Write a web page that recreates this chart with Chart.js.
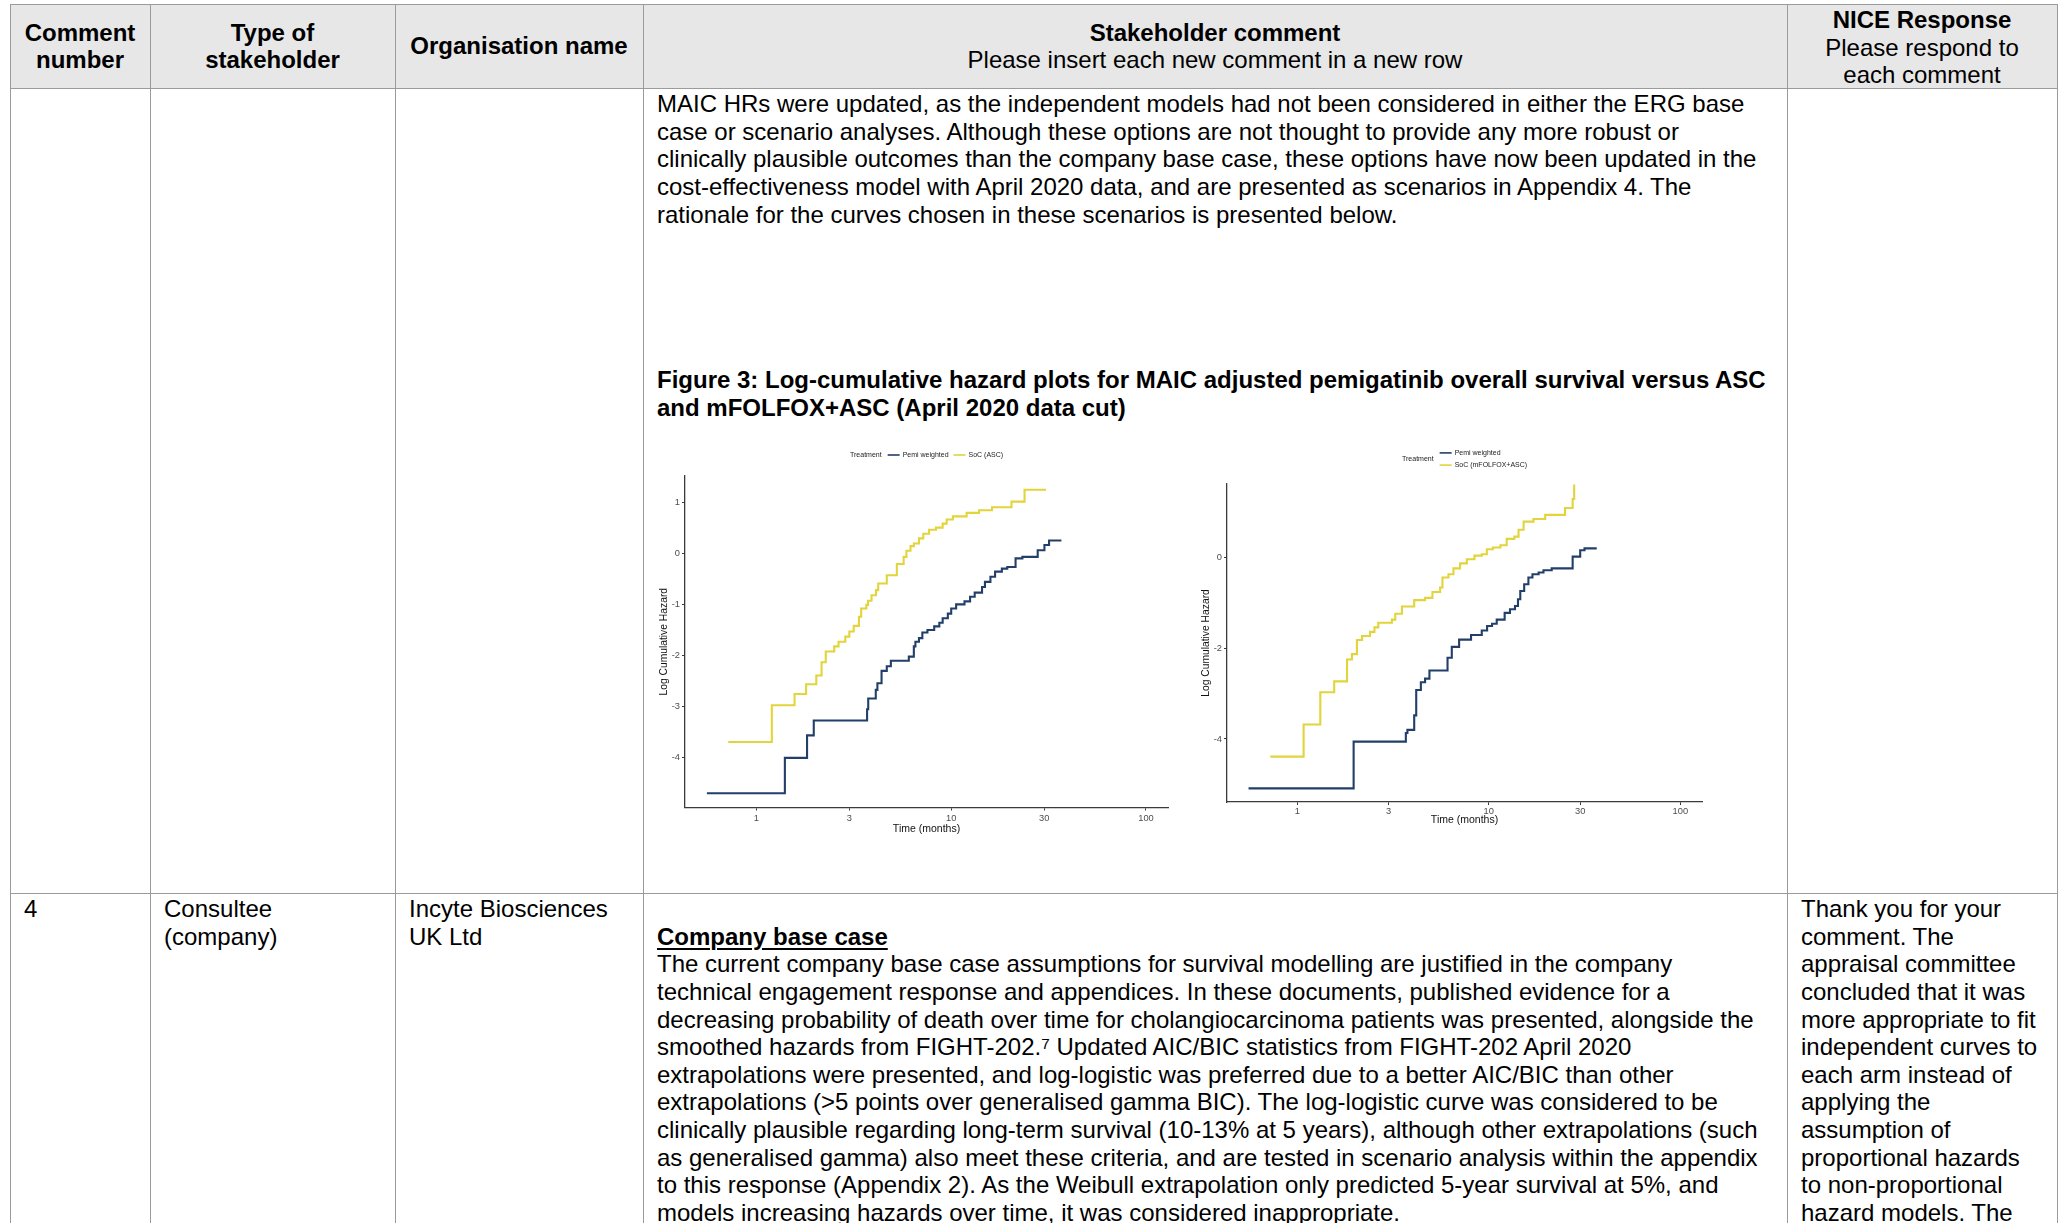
<!DOCTYPE html>
<html>
<head>
<meta charset="utf-8">
<title>Stakeholder comments – log-cumulative hazard plots</title>
<script src="https://cdn.jsdelivr.net/npm/chart.js@4.4.1/dist/chart.umd.min.js"></script>
<style>
  html, body { margin: 0; padding: 0; background: #fff; }
  body { width: 2060px; height: 1223px; overflow: hidden; position: relative; }
  .rule { position: absolute; background: #9b9b9b; }
  .hdr-bg { position: absolute; background: #e7e7e7; }
  .t { position: absolute; font-family: "Liberation Sans", Arial, sans-serif; font-size: 24px; line-height: 27.6px; white-space: pre; color: #000; }
  .c { text-align: center; }
  .b { font-weight: bold; }
  .u { text-decoration: underline; text-decoration-thickness: 2px; text-underline-offset: 3px; }
  canvas { position: absolute; filter: blur(0.5px); }
</style>
</head>
<body>

<!-- header band -->
<div class="hdr-bg" style="left:10px; top:4.7px; width:2047px; height:83.5px;"></div>

<!-- table rules -->
<div class="rule" style="left:10px; top:4px; width:2048px; height:1.4px;"></div>
<div class="rule" style="left:10px; top:87.6px; width:2048px; height:1.4px;"></div>
<div class="rule" style="left:10px; top:892.6px; width:2048px; height:1.4px;"></div>
<div class="rule" style="left:9.6px; top:4px; width:1.4px; height:1219px;"></div>
<div class="rule" style="left:149.6px; top:4px; width:1.4px; height:1219px;"></div>
<div class="rule" style="left:394.6px; top:4px; width:1.4px; height:1219px;"></div>
<div class="rule" style="left:642.6px; top:4px; width:1.4px; height:1219px;"></div>
<div class="rule" style="left:1786.6px; top:4px; width:1.4px; height:1219px;"></div>
<div class="rule" style="left:2056.6px; top:4px; width:1.4px; height:1219px;"></div>

<!-- header cells -->
<div class="t c b" style="left:10px; width:140px; top:18.6px;">Comment
number</div>
<div class="t c b" style="left:150px; width:245px; top:18.6px;">Type of
stakeholder</div>
<div class="t c b" style="left:395px; width:248px; top:32.4px;">Organisation name</div>
<div class="t c" style="left:643px; width:1144px; top:18.6px;"><span class="b">Stakeholder comment</span>
Please insert each new comment in a new row</div>
<div class="t c" style="left:1787px; width:270px; top:6.2px;"><span class="b">NICE Response</span>
Please respond to
each comment</div>

<!-- continued comment, figure caption -->
<div class="t" style="left:657px; top:90.2px;">MAIC HRs were updated, as the independent models had not been considered in either the ERG base
case or scenario analyses. Although these options are not thought to provide any more robust or
clinically plausible outcomes than the company base case, these options have now been updated in the
cost-effectiveness model with April 2020 data, and are presented as scenarios in Appendix 4. The
rationale for the curves chosen in these scenarios is presented below.





<span class="b">Figure 3: Log-cumulative hazard plots for MAIC adjusted pemigatinib overall survival versus ASC
and mFOLFOX+ASC (April 2020 data cut)</span></div>

<canvas id="chartAsc" width="530" height="412" style="left:650px; top:440px;"></canvas>
<canvas id="chartMf" width="520" height="412" style="left:1195px; top:440px;"></canvas>

<!-- comment 4 -->
<div class="t" style="left:24px; top:895.2px;">4</div>
<div class="t" style="left:164px; top:895.2px;">Consultee
(company)</div>
<div class="t" style="left:409px; top:895.2px;">Incyte Biosciences
UK Ltd</div>
<div class="t" style="left:657px; top:895.2px;">
<span class="b u">Company base case</span>
The current company base case assumptions for survival modelling are justified in the company
technical engagement response and appendices. In these documents, published evidence for a
decreasing probability of death over time for cholangiocarcinoma patients was presented, alongside the
smoothed hazards from FIGHT-202.⁷ Updated AIC/BIC statistics from FIGHT-202 April 2020
extrapolations were presented, and log-logistic was preferred due to a better AIC/BIC than other
extrapolations (&gt;5 points over generalised gamma BIC). The log-logistic curve was considered to be
clinically plausible regarding long-term survival (10-13% at 5 years), although other extrapolations (such
as generalised gamma) also meet these criteria, and are tested in scenario analysis within the appendix
to this response (Appendix 2). As the Weibull extrapolation only predicted 5-year survival at 5%, and
models increasing hazards over time, it was considered inappropriate.</div>
<div class="t" style="left:1801px; top:895.2px;">Thank you for your
comment. The
appraisal committee
concluded that it was
more appropriate to fit
independent curves to
each arm instead of
applying the
assumption of
proportional hazards
to non-proportional
hazard models. The</div>

<script>
// Kaplan-Meier derived log cumulative hazard, time in months (log axis)

// Panel A: Pemi weighted vs SoC (ASC)
const pemiAscTime = [0.557, 1.40, 1.82, 1.97, 3.70, 3.75, 4.10, 4.18, 4.39, 4.67, 4.90, 6.06, 6.43, 6.55, 6.83, 7.11, 7.55, 8.18, 8.69, 9.04, 9.61, 10.0, 10.6, 11.7, 12.5, 13.2, 14.4, 14.9, 15.9, 16.8, 18.2, 19.4, 21.4, 23.2, 27.8, 30.1, 31.8, 36.8];
const pemiAscLogH = [-4.69, -4.00, -3.56, -3.27, -3.05, -2.84, -2.67, -2.54, -2.30, -2.21, -2.10, -2.02, -1.82, -1.73, -1.66, -1.55, -1.50, -1.43, -1.36, -1.27, -1.18, -1.08, -1.00, -0.94, -0.85, -0.77, -0.66, -0.56, -0.46, -0.36, -0.30, -0.27, -0.10, -0.07, 0.06, 0.16, 0.25, 0.25];
const socAscTime = [0.717, 1.20, 1.57, 1.80, 2.03, 2.16, 2.27, 2.51, 2.64, 2.86, 3.00, 3.16, 3.36, 3.45, 3.67, 3.74, 3.90, 4.11, 4.22, 4.67, 5.26, 5.70, 5.89, 6.18, 6.43, 6.83, 7.19, 7.70, 8.35, 9.04, 9.48, 10.2, 12.0, 13.9, 16.2, 20.4, 23.8, 30.7];
const socAscLogH = [-3.69, -2.97, -2.75, -2.56, -2.39, -2.13, -1.92, -1.82, -1.73, -1.63, -1.53, -1.42, -1.24, -1.08, -1.01, -0.93, -0.82, -0.72, -0.59, -0.43, -0.21, -0.07, 0.05, 0.14, 0.19, 0.29, 0.38, 0.46, 0.50, 0.58, 0.66, 0.72, 0.79, 0.84, 0.90, 1.01, 1.24, 1.24];

// Panel B: Pemi weighted vs SoC (mFOLFOX+ASC)
const pemiMfTime = [0.557, 1.97, 3.69, 3.76, 4.08, 4.18, 4.42, 4.65, 4.90, 6.09, 6.41, 7.00, 8.08, 9.19, 9.80, 10.4, 11.0, 12.1, 12.9, 13.7, 14.2, 14.6, 15.3, 16.1, 16.9, 18.2, 19.3, 21.3, 27.4, 30.0, 31.6, 36.6];
const pemiMfLogH = [-5.09, -4.06, -3.87, -3.80, -3.48, -2.92, -2.75, -2.67, -2.49, -2.21, -1.97, -1.81, -1.71, -1.61, -1.51, -1.46, -1.37, -1.22, -1.14, -1.07, -0.92, -0.74, -0.59, -0.44, -0.37, -0.33, -0.28, -0.24, 0.02, 0.16, 0.20, 0.20];
const socMfTime = [0.723, 1.08, 1.32, 1.56, 1.82, 1.93, 2.05, 2.18, 2.40, 2.53, 2.65, 3.12, 3.25, 3.52, 4.08, 4.65, 5.08, 5.57, 5.73, 6.16, 6.54, 7.08, 7.68, 8.42, 9.19, 9.77, 10.5, 11.5, 12.4, 13.6, 14.3, 15.2, 17.1, 19.7, 25.0, 27.4, 27.9];
const socMfLogH = [-4.39, -3.68, -2.97, -2.73, -2.25, -2.13, -1.82, -1.73, -1.64, -1.54, -1.44, -1.37, -1.24, -1.08, -0.94, -0.89, -0.76, -0.66, -0.44, -0.37, -0.24, -0.13, -0.04, 0.04, 0.07, 0.18, 0.22, 0.27, 0.41, 0.46, 0.61, 0.79, 0.85, 0.94, 1.09, 1.29, 1.61];

// Axis breaks
const timeTicks = [1, 3, 10, 30, 100];
const ascLogHTicks = [-4, -3, -2, -1, 0, 1];
const mfLogHTicks = [-4, -2, 0];

const legendTitle = 'Treatment';
const pemiLabel = 'Pemi weighted';
const socAscLabel = 'SoC (ASC)';
const socMfLabel = 'SoC (mFOLFOX+ASC)';

const PEMI_COLOR = '#223f69';
const SOC_COLOR = '#e2d43b';
const AXIS_COLOR = '#3a3a3a';
const TICK_TEXT = '#4d4d4d';
const FONT = '"Liberation Sans", Arial, sans-serif';

function toPoints(xs, ys) {
  return xs.map((x, i) => ({ x: x, y: ys[i] }));
}

// ggplot-style legend: "Treatment" followed by line keys, either in a row or stacked
const treatmentLegend = {
  id: 'treatmentLegend',
  afterDraw(chart, args, opts) {
    const ctx = chart.ctx;
    ctx.save();
    ctx.font = '7px ' + FONT;
    ctx.textBaseline = 'middle';
    ctx.fillStyle = '#222';
    const items = chart.data.datasets.map(d => ({ label: d.label, color: d.borderColor }));
    const keyLen = 12, keyGap = 3;
    if (opts.layout === 'row') {
      let x = opts.x;
      const y = opts.y;
      ctx.fillText(legendTitle, x, y);
      x += ctx.measureText(legendTitle).width + 6;
      items.forEach(it => {
        ctx.strokeStyle = it.color;
        ctx.lineWidth = 1.6;
        ctx.beginPath();
        ctx.moveTo(x, y); ctx.lineTo(x + keyLen, y);
        ctx.stroke();
        x += keyLen + keyGap;
        ctx.fillStyle = '#222';
        ctx.fillText(it.label, x, y);
        x += ctx.measureText(it.label).width + 5;
      });
    } else {
      const rowH = 12.2;
      const yMid = opts.y;
      let x = opts.x;
      ctx.fillText(legendTitle, x, yMid);
      x += ctx.measureText(legendTitle).width + 6;
      items.forEach((it, i) => {
        const y = yMid + (i - (items.length - 1) / 2) * rowH;
        ctx.strokeStyle = it.color;
        ctx.lineWidth = 1.6;
        ctx.beginPath();
        ctx.moveTo(x, y); ctx.lineTo(x + keyLen, y);
        ctx.stroke();
        ctx.fillStyle = '#222';
        ctx.fillText(it.label, x + keyLen + keyGap, y);
      });
    }
    ctx.restore();
  }
};

function makeChart(canvasId, cfg) {
  return new Chart(document.getElementById(canvasId), {
    type: 'line',
    data: {
      datasets: [
        { label: pemiLabel, data: toPoints(cfg.pemiT, cfg.pemiH), borderColor: PEMI_COLOR,
          borderWidth: 2.1, stepped: 'before', pointRadius: 0, fill: false },
        { label: cfg.socLabel, data: toPoints(cfg.socT, cfg.socH), borderColor: SOC_COLOR,
          borderWidth: 2.1, stepped: 'before', pointRadius: 0, fill: false }
      ]
    },
    options: {
      responsive: false,
      animation: false,
      events: [],
      layout: { padding: cfg.padding },
      plugins: {
        legend: { display: false },
        tooltip: { enabled: false },
        treatmentLegend: cfg.legend
      },
      scales: {
        x: {
          type: 'logarithmic',
          bounds: 'data',
          min: cfg.xMin, max: cfg.xMax,
          afterBuildTicks: s => { s.ticks = timeTicks.map(v => ({ value: v })); },
          afterFit: s => { s.height = cfg.xAxisHeight; },
          ticks: { callback: v => String(v), color: TICK_TEXT, font: { family: FONT, size: 9.3 },
                   padding: cfg.xTickPad, autoSkip: false, maxRotation: 0 },
          grid: { drawOnChartArea: false, drawTicks: true, tickLength: 3, color: AXIS_COLOR, lineWidth: 1 },
          border: { display: true, color: AXIS_COLOR, width: 1.3 },
          title: { display: true, text: 'Time (months)', color: '#111',
                   font: { family: FONT, size: 10.5 }, padding: { top: 0, bottom: cfg.xTitlePad } }
        },
        y: {
          type: 'linear',
          bounds: 'data',
          min: cfg.yMin, max: cfg.yMax,
          afterBuildTicks: s => { s.ticks = cfg.yTicks.map(v => ({ value: v })); },
          afterFit: s => { s.width = cfg.yAxisWidth; },
          ticks: { callback: v => String(v), color: TICK_TEXT, font: { family: FONT, size: 9.3 }, padding: 2 },
          grid: { drawOnChartArea: false, drawTicks: true, tickLength: 3, color: AXIS_COLOR, lineWidth: 1 },
          border: { display: true, color: AXIS_COLOR, width: 1.3 },
          title: { display: true, text: 'Log Cumulative Hazard', color: '#111',
                   font: { family: FONT, size: 10.3 }, padding: { top: cfg.yTitlePad, bottom: 0 } }
        }
      }
    },
    plugins: [treatmentLegend]
  });
}

makeChart('chartAsc', {
  pemiT: pemiAscTime, pemiH: pemiAscLogH, socT: socAscTime, socH: socAscLogH, socLabel: socAscLabel,
  padding: { left: 0, right: 12, top: 36, bottom: 12 },
  xMin: 0.43, xMax: 129.7, yMin: -4.97, yMax: 1.51, yTicks: ascLogHTicks,
  xAxisHeight: 32.5, yAxisWidth: 35, xTitlePad: 4.2, xTickPad: 2, yTitlePad: 8,
  legend: { layout: 'row', x: 200, y: 15 }
});

makeChart('chartMf', {
  pemiT: pemiMfTime, pemiH: pemiMfLogH, socT: socMfTime, socH: socMfLogH, socLabel: socMfLabel,
  padding: { left: 0, right: 13, top: 44, bottom: 12 },
  xMin: 0.43, xMax: 129.7, yMin: -5.39, yMax: 1.62, yTicks: mfLogHTicks,
  xAxisHeight: 38, yAxisWidth: 32, xTitlePad: 13.5, xTickPad: 1, yTitlePad: 5,
  legend: { layout: 'stack', x: 207, y: 19 }
});
</script>
</body>
</html>
